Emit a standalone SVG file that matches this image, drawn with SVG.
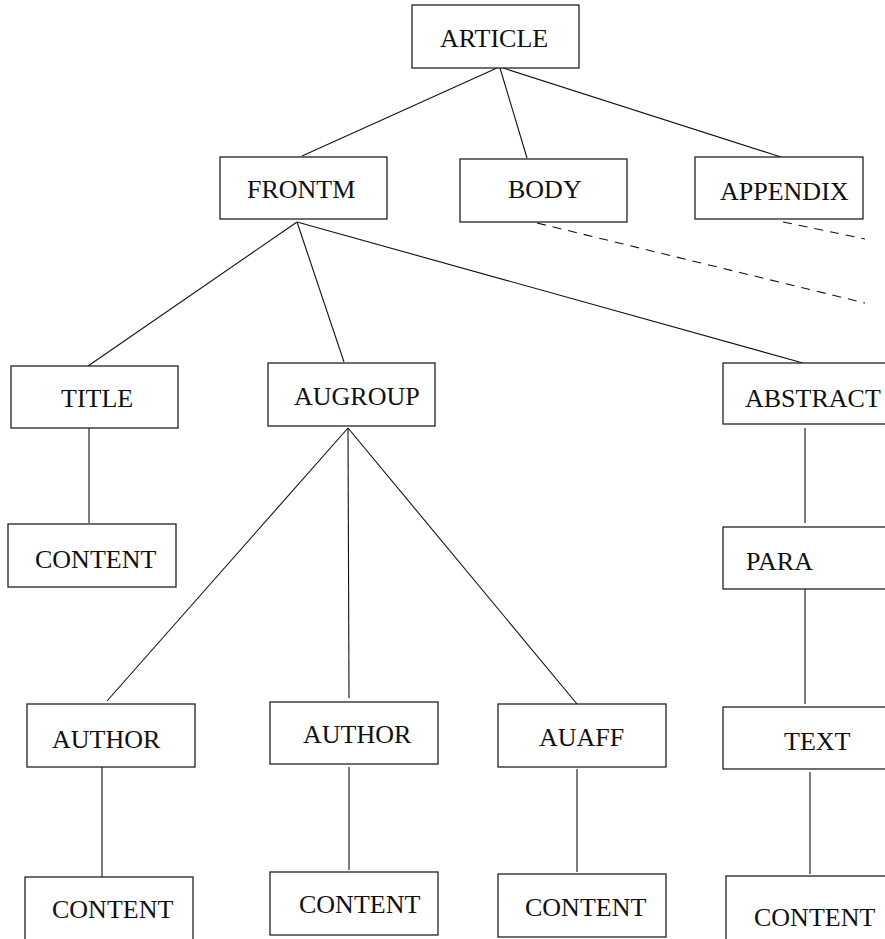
<svg xmlns="http://www.w3.org/2000/svg" width="885" height="939" viewBox="0 0 885 939">
<style>
rect{fill:#fff;stroke:#222;stroke-width:1.3}
text{font-family:"Liberation Serif","Times New Roman",serif;font-size:26px;fill:#111}
.c line{stroke:#111;stroke-width:1.1}
.c .d{stroke-dasharray:9 7}
</style>
<rect x="0" y="0" width="885" height="939" style="stroke:none"/>
<g class="c" id="connectors">
<line x1="497" y1="68" x2="302" y2="156"/>
<line x1="500" y1="68" x2="527" y2="158"/>
<line x1="503" y1="68" x2="781" y2="157"/>
<line x1="297" y1="222" x2="88" y2="366"/>
<line x1="297" y1="222" x2="344" y2="362"/>
<line x1="297" y1="222" x2="803" y2="363"/>
<line x1="348" y1="428" x2="107" y2="701"/>
<line x1="348" y1="428" x2="349" y2="698"/>
<line x1="348" y1="428" x2="577" y2="704"/>
<line x1="89" y1="428" x2="89" y2="523"/>
<line x1="102" y1="767" x2="102" y2="877"/>
<line x1="349" y1="767" x2="349" y2="870"/>
<line x1="577" y1="769" x2="577" y2="872"/>
<line x1="805" y1="428" x2="805" y2="523"/>
<line x1="805" y1="589" x2="805" y2="704"/>
<line x1="810" y1="772" x2="810" y2="874"/>
<line class="d" x1="783" y1="222" x2="865" y2="239"/>
<line class="d" x1="537" y1="223" x2="865" y2="303"/>
</g>
<g id="article"><rect x="412" y="5" width="167" height="63"/><text x="440" y="47">ARTICLE</text></g>
<g id="frontm"><rect x="220" y="157" width="167" height="62"/><text x="247" y="198">FRONTM</text></g>
<g id="body"><rect x="460" y="159" width="167" height="63"/><text x="508" y="198">BODY</text></g>
<g id="appendix"><rect x="695" y="157" width="168" height="62"/><text x="720" y="200">APPENDIX</text></g>
<g id="title"><rect x="11" y="366" width="167" height="62"/><text x="61" y="407">TITLE</text></g>
<g id="augroup"><rect x="268" y="363" width="167" height="63"/><text x="294" y="405">AUGROUP</text></g>
<g id="abstract"><rect x="723" y="363" width="170" height="61"/><text x="745" y="407">ABSTRACT</text></g>
<g id="title-content"><rect x="8" y="524" width="168" height="63"/><text x="35" y="568">CONTENT</text></g>
<g id="para"><rect x="723" y="527" width="170" height="62"/><text x="746" y="570">PARA</text></g>
<g id="author1"><rect x="27" y="704" width="168" height="63"/><text x="52" y="748">AUTHOR</text></g>
<g id="author2"><rect x="270" y="702" width="168" height="62"/><text x="303" y="743">AUTHOR</text></g>
<g id="auaff"><rect x="498" y="704" width="168" height="63"/><text x="539" y="746">AUAFF</text></g>
<g id="text"><rect x="723" y="707" width="170" height="62"/><text x="784" y="750">TEXT</text></g>
<g id="author1-content"><rect x="25" y="877" width="168" height="70"/><text x="52" y="918">CONTENT</text></g>
<g id="author2-content"><rect x="270" y="872" width="168" height="63"/><text x="299" y="913">CONTENT</text></g>
<g id="auaff-content"><rect x="498" y="874" width="168" height="63"/><text x="525" y="916">CONTENT</text></g>
<g id="text-content"><rect x="726" y="876" width="170" height="70"/><text x="754" y="926">CONTENT</text></g>
</svg>
